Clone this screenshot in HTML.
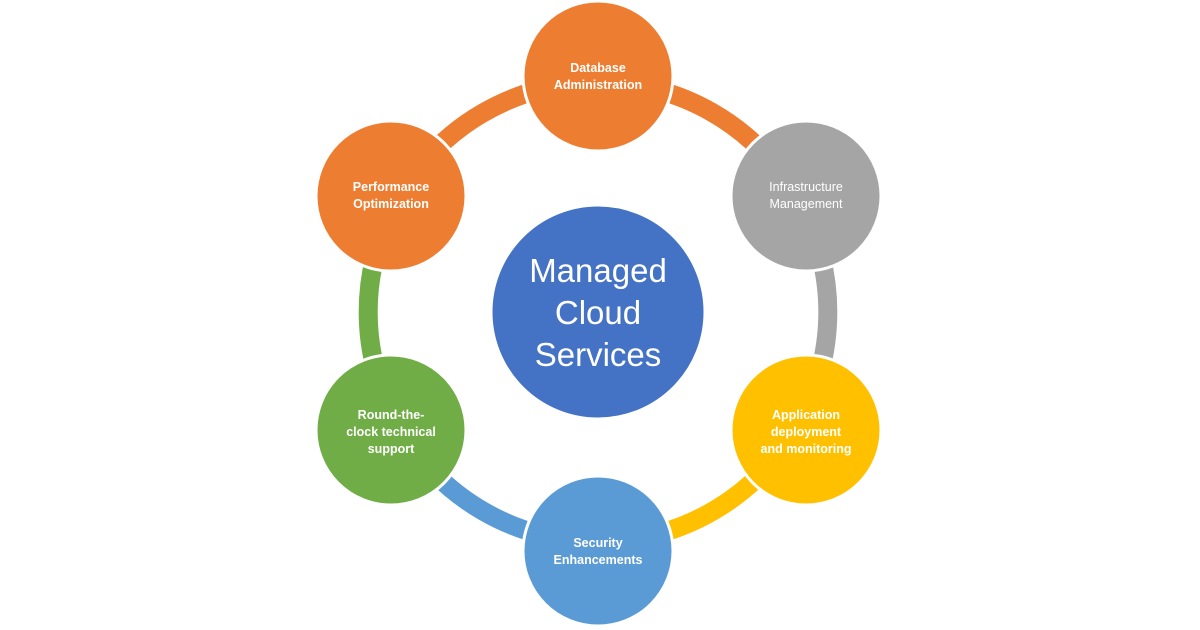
<!DOCTYPE html>
<html><head><style>
body{margin:0;width:1200px;height:630px;background:#fff;overflow:hidden}
svg{display:block}
text{font-family:"Liberation Sans",sans-serif;fill:#fff;text-anchor:middle}
.s{font-size:12.5px;font-weight:bold}
</style></head><body>
<svg width="1200" height="630" viewBox="0 0 1200 630">
<g fill="none" stroke-width="19">
<path d="M598 82 A230 230 0 0 1 797 197" stroke="#ED7D31"/>
<path d="M797 197 A230 230 0 0 1 797 427" stroke="#A5A5A5"/>
<path d="M797 427 A230 230 0 0 1 598 542" stroke="#FFC000"/>
<path d="M598 542 A230 230 0 0 1 399 427" stroke="#5B9BD5"/>
<path d="M399 427 A230 230 0 0 1 399 197" stroke="#70AD47"/>
<path d="M399 197 A230 230 0 0 1 598 82" stroke="#ED7D31"/>
</g>
<g stroke="#fff" stroke-width="3">
<circle cx="598" cy="312" r="107" fill="#4472C4"/>
<circle cx="598" cy="76" r="75" fill="#ED7D31"/>
<circle cx="806" cy="196" r="75" fill="#A5A5A5"/>
<circle cx="806" cy="430" r="75" fill="#FFC000"/>
<circle cx="598" cy="551" r="75" fill="#5B9BD5"/>
<circle cx="391" cy="430" r="75" fill="#70AD47"/>
<circle cx="391" cy="196" r="75" fill="#ED7D31"/>
</g>
<text style="font-size:33px" x="598" y="282">Managed</text>
<text style="font-size:33px" x="598" y="324">Cloud</text>
<text style="font-size:33px" x="598" y="366">Services</text>
<text class="s" x="598" y="72">Database</text>
<text class="s" x="598" y="89">Administration</text>
<text class="s" style="font-weight:normal" x="806" y="191">Infrastructure</text>
<text class="s" style="font-weight:normal" x="806" y="208">Management</text>
<text class="s" x="806" y="419">Application</text>
<text class="s" x="806" y="436">deployment</text>
<text class="s" x="806" y="453">and monitoring</text>
<text class="s" x="598" y="547">Security</text>
<text class="s" x="598" y="564">Enhancements</text>
<text class="s" x="391" y="419">Round-the-</text>
<text class="s" x="391" y="436">clock technical</text>
<text class="s" x="391" y="453">support</text>
<text class="s" x="391" y="191">Performance</text>
<text class="s" x="391" y="208">Optimization</text>
</svg>
</body></html>
